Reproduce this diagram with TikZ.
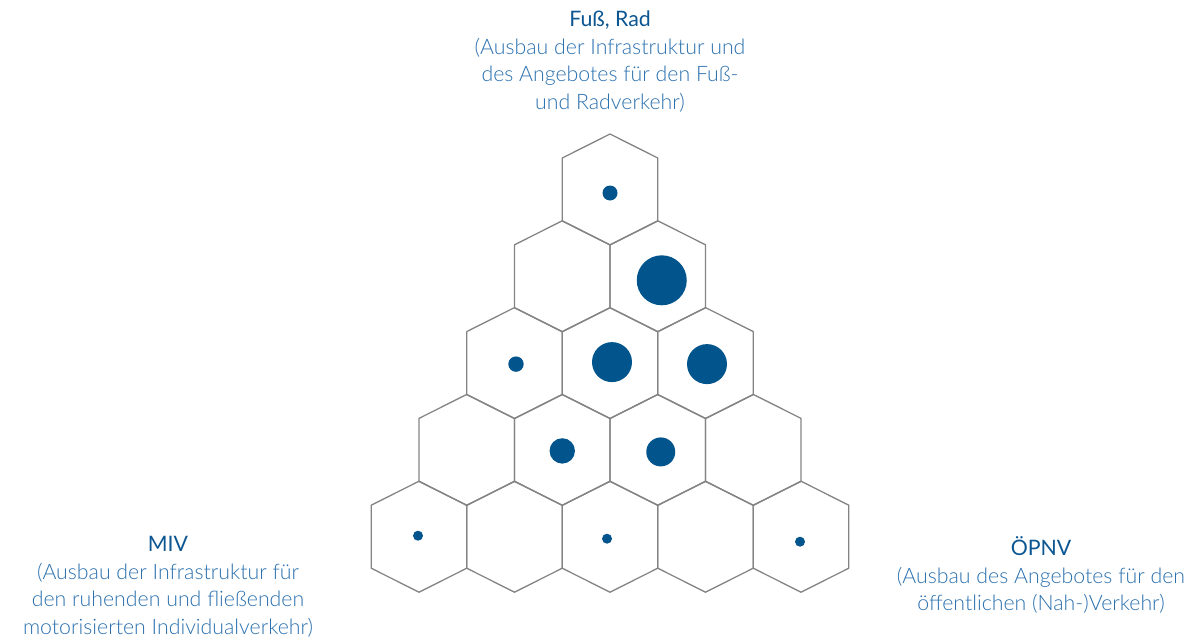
\documentclass[tikz,border=0pt]{standalone}
\usepackage{fontspec}
\setmainfont{Lato Light}[BoldFont={Lato}]
\definecolor{hexgray}{RGB}{132,132,132}
\definecolor{dotblue}{RGB}{2,84,140}
\definecolor{headblue}{RGB}{12,86,146}
\definecolor{textblue}{RGB}{42,112,174}
\tikzset{
  hexline/.style={draw=hexgray, line width=1.3pt, line join=round},
  dot/.style={fill=dotblue},
  corner/.style={align=center, text=textblue, font=\fontsize{21.3}{27.5}\selectfont}
}
\newcommand{\head}[1]{{\bfseries\color{headblue}#1}}
\begin{document}
\begin{tikzpicture}[x=1pt, y=-1pt]
  \useasboundingbox (0,0) rectangle (1199,637);
  % hexagon pyramid
  \foreach \r in {1,...,5} {
    \foreach \k in {1,...,\r} {
      \coordinate (h\r\k) at ({610+95.5*(\k-1-(\r-1)/2)}, {189.5+86.8*(\r-1)});
      \draw[hexline] (h\r\k) ++(0,-55.5) -- ++(47.75,24) -- ++(0,63)
        -- ++(-47.75,24) -- ++(-47.75,-24) -- ++(0,-63) -- cycle;
    }
  }
  % dots
  \fill[dot] (h11) ++(0,3.5) circle (7.5);
  \fill[dot] (h22) ++(4,4) circle (25);
  \fill[dot] (h31) ++(1.5,1) circle (7.7);
  \fill[dot] (h32) ++(2,-1) circle (20);
  \fill[dot] (h33) ++(1.5,1) circle (20);
  \fill[dot] (h42) ++(0,1) circle (12.7);
  \fill[dot] (h43) ++(3,2) circle (14.5);
  \fill[dot] (h51) ++(-1,-1) circle (5);
  \fill[dot] (h53) ++(-3,2) circle (5);
  \fill[dot] (h55) ++(-1,5) circle (5);
  % labels
  \node[corner] (fuss) at (610,61.5) {\head{Fuß, Rad}\\(Ausbau der Infrastruktur und\\des Angebotes für den Fuß-\\und Radverkehr)};
  \node[corner] (miv) at (168,587) {\head{MIV}\\(Ausbau der Infrastruktur für\\den ruhenden und fließenden\\motorisierten Individualverkehr)};
  \node[corner] (opnv) at (1041,575) {\head{ÖPNV}\\(Ausbau des Angebotes für den\\öffentlichen (Nah-)Verkehr)};
\end{tikzpicture}
\end{document}
